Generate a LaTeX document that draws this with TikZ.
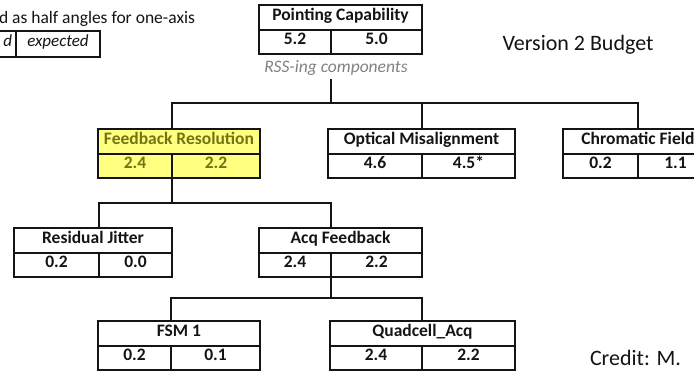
\documentclass[tikz,border=0pt]{standalone}
\usepackage{fontspec}
\setmainfont{Carlito}
\definecolor{hlyellow}{RGB}{255,255,128}
\definecolor{hltext}{RGB}{115,115,20}
\definecolor{notegray}{RGB}{130,130,130}
\definecolor{ink}{RGB}{20,20,20}

\tikzset{
  cell/.style={draw=ink, line width=2pt, fill=white, inner sep=0pt, outer sep=0pt,
    text=ink, font=\fontsize{17.5}{20}\selectfont\bfseries,
    text height=0.64em, text depth=0.1em, anchor=north west},
  hot/.style={fill=hlyellow, text=hltext},
  legcell/.style={draw=ink, line width=1.5pt, inner sep=0pt, outer sep=0pt,
    text=ink, font=\fontsize{17}{20}\selectfont\itshape,
    text height=0.68em, text depth=0.2em, minimum height=26pt},
  conn/.style={draw=ink, line width=1.6pt},
  plain/.style={inner sep=0pt, outer sep=0pt, text=ink}
}

% budget table: [style]{name}{x}{y}{left width}{right width}{title}{value 1}{value 2}
\newcommand\budgetbox[9][]{%
  \node[cell,#1,minimum width=#5pt+#6pt,minimum height=25pt] (#2-h) at (#3,#4) {#7};
  \node[cell,#1,minimum width=#5pt,minimum height=24pt] (#2-a) at (#2-h.south west) {#8};
  \node[cell,#1,minimum width=#6pt,minimum height=24pt] (#2-b) at (#2-a.north east) {#9};
}

\begin{document}
\begin{tikzpicture}[x=1pt,y=-1pt]
  \useasboundingbox (0,0) rectangle (694,370);
  \clip (0,0) rectangle (694,370);
  \fill[white] (0,0) rectangle (694,370);

  % legend
  \node[plain, anchor=west, font=\fontsize{17.5}{20}\selectfont] (legnote) at (-1,19) {d as half angles for one-axis};
  \node[legcell, anchor=north east, text width=72pt, align=right, inner xsep=4pt] (leg-a) at (16,31) {d};
  \node[legcell, anchor=north west, minimum width=84pt] (leg-b) at (leg-a.north east) {expected};

  % titles
  \node[plain, font=\fontsize{22}{26}\selectfont] (ver) at (578,45) {Version 2 Budget};
  \node[plain, text=notegray, font=\fontsize{17.5}{20}\selectfont\itshape] (rss) at (336,68) {RSS-ing components};
  \node[plain, anchor=west, font=\fontsize{22}{26}\selectfont] (credit) at (590,358) {Credit: M.};

  % tables
  \budgetbox{pc}{259}{5}{72}{91}{Pointing Capability}{5.2}{5.0}
  \budgetbox[hot]{fr}{98}{129}{74}{88}{Feedback Resolution}{2.4}{2.2}
  \budgetbox{om}{328}{129}{94}{93}{Optical Misalignment}{4.6}{4.5*}
  \budgetbox{cf}{563}{129}{75}{75}{Chromatic Field}{0.2}{1.1}
  \budgetbox{rj}{14}{228}{85}{73}{Residual Jitter}{0.2}{0.0}
  \budgetbox{af}{259}{228}{72}{91}{Acq Feedback}{2.4}{2.2}
  \budgetbox{fsm}{98}{321}{73}{89}{FSM 1}{0.2}{0.1}
  \budgetbox{qa}{330}{321}{92}{93}{Quadcell\_Acq}{2.4}{2.2}

  % tree connectors
  \coordinate (top-drop) at (331,79);
  \coordinate (bus1) at (331,103);
  \coordinate (bus2) at (172,203);
  \coordinate (bus3) at (331,298);

  \draw[conn] (top-drop) -- (bus1);
  \draw[conn] (fr-h.north -| fr-a.east) -- (fr-a.east |- bus1) -- (cf-a.east |- bus1) -- (cf-h.north -| cf-a.east);
  \draw[conn] (om-a.east |- bus1) -- (om-h.north -| om-a.east);

  \draw[conn] (fr-a.south east) -- (bus2);
  \draw[conn] (rj-h.north -| rj-a.east) -- (rj-a.east |- bus2) -- (af-a.east |- bus2) -- (af-h.north -| af-a.east);

  \draw[conn] (af-a.south east) -- (bus3);
  \draw[conn] (fsm-h.north -| fsm-a.east) -- (fsm-a.east |- bus3) -- (qa-a.east |- bus3) -- (qa-h.north -| qa-a.east);
\end{tikzpicture}
\end{document}
